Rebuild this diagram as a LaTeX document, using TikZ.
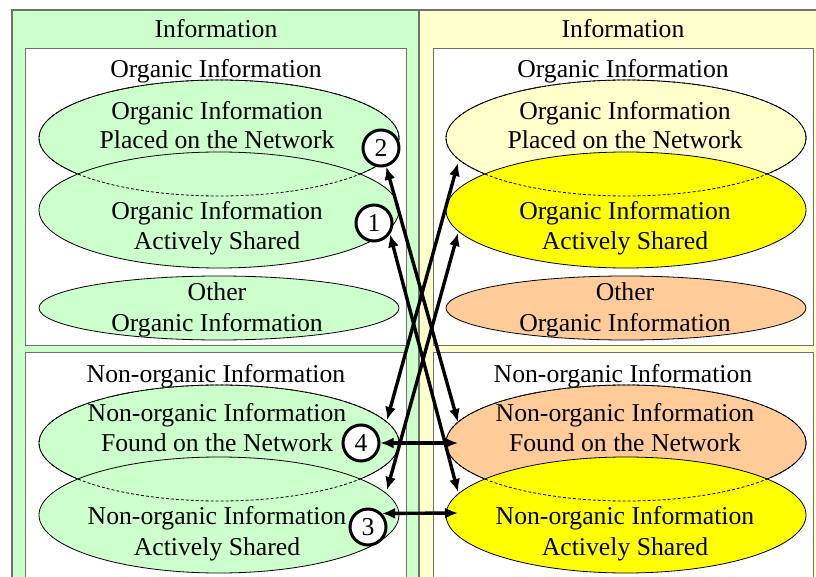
\documentclass[tikz,border=0pt]{standalone}
\usepackage{fontspec}
\setmainfont{Liberation Serif}
\usetikzlibrary{shapes.geometric,arrows.meta}
\definecolor{lgreen}{HTML}{CCFFCC}
\definecolor{lyellow}{HTML}{FFFFCC}
\definecolor{yel}{HTML}{FFFF00}
\definecolor{peach}{HTML}{FFCC99}
\definecolor{framegray}{HTML}{707070}
\begin{document}
\begin{tikzpicture}[x=1pt,y=-1pt,
 font=\fontsize{25.7}{30.5}\selectfont,
 outerbox/.style={draw=framegray,line width=1.2pt},
 innerbox/.style={draw=framegray,fill=white,line width=1pt},
 oval/.style={ellipse,draw=black,line width=0.8pt,minimum width=360pt,minimum height=116pt,inner sep=0pt,outer sep=0pt},
 smalloval/.style={oval,minimum height=64pt},
 dashedoval/.style={oval,fill=none,dash pattern=on 3pt off 2pt},
 lbl/.style={anchor=base,inner sep=0pt},
 num/.style={circle,draw=black,fill=white,line width=3pt,minimum size=36pt,inner sep=0pt},
 conn/.style={line width=3.4pt,{Latex[length=13pt,width=11pt]}-{Latex[length=13pt,width=11pt]}},
]
\useasboundingbox (0,0) rectangle (816,577);
\clip (0,0) rectangle (816,577);

% outer columns
\path[outerbox,fill=lgreen] (12,10) rectangle (419,600);
\path[outerbox,fill=lyellow] (419,10) rectangle (840,600);
% inner boxes
\path[innerbox] (25,49) rectangle (406,345);
\path[innerbox] (25,352) rectangle (406,600);
\path[innerbox] (433,49) rectangle (813,345);
\path[innerbox] (433,352) rectangle (813,600);

% titles
\node[lbl] (tL) at (216,38) {Information};
\node[lbl] (tR) at (623,38) {Information};
\node[lbl] (oL) at (216,78) {Organic Information};
\node[lbl] (oR) at (623,78) {Organic Information};
\node[lbl] (nL) at (216,382) {Non-organic Information};
\node[lbl] (nR) at (623,382) {Non-organic Information};

% left ellipses
\node[oval,fill=lgreen] (pL) at (219,138) {};
\node[oval,fill=lgreen] (sL) at (219,210) {};
\node[dashedoval] (pLd) at (219,138) {};
\node[smalloval,fill=lgreen] (xL) at (219,308) {};
\node[oval,fill=lgreen] (fL) at (219,443) {};
\node[oval,fill=lgreen] (aL) at (219,515) {};
\node[dashedoval] (fLd) at (219,443) {};

% right ellipses
\node[oval,fill=lyellow] (pR) at (626,138) {};
\node[oval,fill=yel] (sR) at (626,210) {};
\node[dashedoval] (pRd) at (626,138) {};
\node[smalloval,fill=peach] (xR) at (626,308) {};
\node[oval,fill=peach] (fR) at (626,443) {};
\node[oval,fill=yel] (aR) at (626,515) {};
\node[dashedoval] (fRd) at (626,443) {};

% left ellipse texts
\node[lbl] (pL1) at (217,120) {Organic Information};
\node[lbl] (pL2) at (217,149) {Placed on the Network};
\node[lbl] (sL1) at (217,220) {Organic Information};
\node[lbl] (sL2) at (217,250) {Actively Shared};
\node[lbl] (xL1) at (217,300) {Other};
\node[lbl] (xL2) at (217,331) {Organic Information};
\node[lbl] (fL1) at (217,421) {Non-organic Information};
\node[lbl] (fL2) at (217,451) {Found on the Network};
\node[lbl] (aL1) at (217,524) {Non-organic Information};
\node[lbl] (aL2) at (217,555) {Actively Shared};

% right ellipse texts
\node[lbl] (pR1) at (625,120) {Organic Information};
\node[lbl] (pR2) at (625,149) {Placed on the Network};
\node[lbl] (sR1) at (625,220) {Organic Information};
\node[lbl] (sR2) at (625,250) {Actively Shared};
\node[lbl] (xR1) at (625,300) {Other};
\node[lbl] (xR2) at (625,331) {Organic Information};
\node[lbl] (fR1) at (625,421) {Non-organic Information};
\node[lbl] (fR2) at (625,451) {Found on the Network};
\node[lbl] (aR1) at (625,524) {Non-organic Information};
\node[lbl] (aR2) at (625,555) {Actively Shared};

% circled numbers
\node[num] (c2) at (381,148) {2};
\node[num] (c1) at (374,223) {1};
\node[num] (c4) at (361,443) {4};
\node[num] (c3) at (368,527) {3};

% arrow end points on the ellipses
\coordinate (ePR) at (458,163);
\coordinate (eSR) at (458,233);
\coordinate (eFRt) at (458,422);
\coordinate (eARt) at (458,492);
\coordinate (eFRm) at (458,443);
\coordinate (eARm) at (458,513);
\coordinate (eFL) at (387,420);
\coordinate (eAL) at (387,490);

% connectors
\draw[conn] (c2) -- (eFRt);
\draw[conn] (c1.-35) -- (eARt);
\draw[conn] (eFL) -- (ePR);
\draw[conn] (eAL) -- (eSR);
\draw[conn] (c4.east) -- (eFRm);
\draw[conn] (c3.44) -- (eARm);
\end{tikzpicture}
\end{document}
